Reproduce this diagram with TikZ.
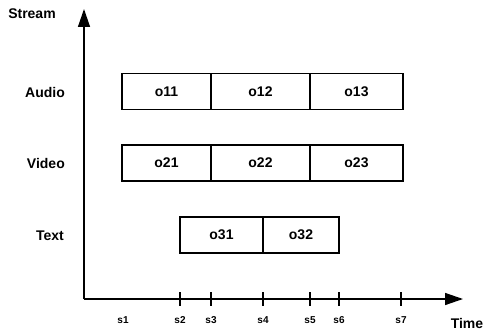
\documentclass[tikz,border=0pt]{standalone}
\usepackage{fontspec}
\setmainfont{Liberation Sans}
\usetikzlibrary{arrows.meta}
\begin{document}
\begin{tikzpicture}[x=1pt,y=-1pt,
  seg/.style={draw, line width=1.3pt, minimum height=36pt, inner sep=0pt, outer sep=0pt, font=\fontsize{14}{16}\selectfont\bfseries},
  lab/.style={font=\fontsize{14}{16}\selectfont\bfseries, inner sep=0pt},
  tlab/.style={font=\fontsize{10}{12}\selectfont\bfseries, inner sep=0pt},
  axis/.style={line width=1.4pt, -{Triangle[length=18pt,width=12pt]}},
  tick/.style={line width=1.3pt}]
\useasboundingbox (0,0) rectangle (486,334);
% axes
\coordinate (origin) at (84,299);
\coordinate (ytip) at (84,9);
\coordinate (xtip) at (463,299);
\draw[axis] (origin) -- (ytip);
\draw[axis] (origin) -- (xtip);
\node[lab] (stream) at (32,14) {Stream};
\node[lab] (time) at (467,323) {Time};
% row labels
\node[lab, anchor=east] (audio) at (65,92) {Audio};
\node[lab, anchor=east] (video) at (65,163) {Video};
\node[lab, anchor=east] (text) at (64,236) {Text};
% boxes
\node[seg, minimum width=89pt] (o11) at (166.5,91.5) {o11};
\node[seg, minimum width=99pt] (o12) at (260.5,91.5) {o12};
\node[seg, minimum width=93pt] (o13) at (356.5,91.5) {o13};
\node[seg, minimum width=89pt] (o21) at (166.5,163) {o21};
\node[seg, minimum width=99pt] (o22) at (260.5,163) {o22};
\node[seg, minimum width=93pt] (o23) at (356.5,163) {o23};
\node[seg, minimum width=83pt] (o31) at (221.5,235) {o31};
\node[seg, minimum width=76pt] (o32) at (301,235) {o32};
% ticks
\foreach \n/\x in {2/180,3/211,4/263,5/310,6/339,7/401}{
  \coordinate (t\n a) at (\x,292);
  \coordinate (t\n b) at (\x,306);
  \draw[tick] (t\n a) -- (t\n b);
}
\foreach \n/\x in {1/123,2/180,3/211,4/263,5/310,6/339,7/401}{
  \node[tlab] (s\n) at (\x,320) {s\n};
}
\end{tikzpicture}
\end{document}
